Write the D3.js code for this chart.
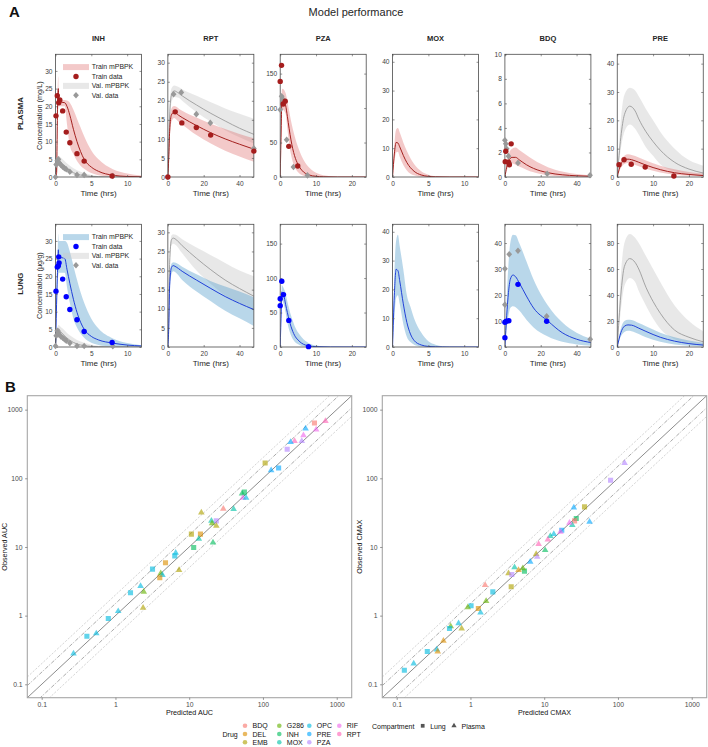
<!DOCTYPE html>
<html><head><meta charset="utf-8">
<script src="https://cdn.jsdelivr.net/npm/d3@7"></script>
<style>body{margin:0;background:#fff}svg{font-family:'Liberation Sans',Arial,Helvetica,sans-serif}</style>
</head><body><svg id="c" width="708" height="747"></svg>
<script>
// ===================== DATA =====================
const drugs = ["INH","RPT","PZA","MOX","BDQ","PRE"];
const timeMax = [12,48,24,12,48,24];
const timeTicks = [[0,5,10],[0,20,40],[0,10,20],[0,5,10],[0,20,40],[0,10,20]];
const plasmaYMax = [34.7,32.2,178,42.6,10,43.3];
const plasmaYTicks = [[0,5,10,15,20,25,30],[0,5,10,15,20,25,30],[0,50,100,150],[0,10,20,30,40],[0,2,4,6,8,10],[0,10,20,30,40]];
const lungYMax = [34.7,32.1,178,42.6,47.2,94.4];
const lungYTicks = [[0,5,10,15,20,25,30],[0,5,10,15,20,25,30],[0,50,100,150],[0,10,20,30,40],[0,10,20,30,40],[0,20,40,60,80]];

// curves: [time, lower, median, upper]
const INH_plasma_train = [[0,0,0,0],[0.15,0.5,1,1.5],[0.3,17,22,25],[0.4,19.5,25,28.5],[0.45,20,21.3,21.8],[1.3,20,21,21.8],[1.6,15,20,21.6],[2,9,17.5,21],[2.5,6.5,13.5,19],[3,4.5,10,16.5],[3.5,3.2,7.2,14],[4,2.3,5,11.5],[5,1.1,2.8,7.5],[6,0.5,1.6,5],[8,0.1,0.5,2.2],[10,0.02,0.15,1],[12,0,0.05,0.4]];
const INH_plasma_val = [[0,0,0,0],[0.15,1.5,2.5,3],[0.3,3.5,4.6,5.6],[0.45,3.8,5,6],[0.7,3.2,4.3,5.6],[1,2.5,3.6,5],[1.5,1.6,2.6,4],[2,1,1.8,3.2],[3,0.35,0.8,1.9],[4,0.12,0.4,1.1],[5,0.04,0.18,0.6],[6,0.01,0.08,0.3],[8,0,0.02,0.1],[12,0,0,0.02]];
const INH_plasma_trainObs = [[0.07,17.3],[0.25,23],[0.45,21],[0.6,21.8],[1,18.7],[1.5,12.7],[2,9.7],[3,6.6],[4,4.5],[7.9,0.3]];
const INH_plasma_valObs = [[0,0],[0.1,3.5],[0.25,4.6],[0.4,5.0],[0.5,4.0],[0.75,3.4],[1,2.9],[1.25,2.5],[1.5,2.2],[2,1.5],[3,0.6],[4,0.6],[8,0.3]];

const RPT_plasma_train = [[0,0,0,0],[0.5,3,5,7],[1,9,12,14],[2,14.5,16.3,18],[3.5,15.5,17,18.6],[6,14.5,16.2,18],[8,13.8,15.6,17.4],[16,11,13.5,15.6],[24,8.8,11.6,14],[32,6.9,10,12.6],[40,5.4,8.6,11.3],[48,4,7.3,10.2]];
const RPT_plasma_val = [[0,0,0,0],[0.5,5,7,9],[1,13,16,18],[2,19.5,21.5,23.2],[3.5,21,22.6,24],[6,20.8,22,23.6],[8,20,21.3,23],[16,17,18.9,21.3],[24,14.5,16.7,19.6],[32,12.3,14.7,18],[40,10.4,12.8,16.6],[48,8.8,11.2,15.3]];
const RPT_plasma_trainObs = [[0,0],[4.1,17.1],[7.8,14.2],[15.9,13],[23.9,11],[48,6.8]];
const RPT_plasma_valObs = [[0,0],[3.2,21.7],[7.5,22.2],[15.9,16.5],[23.7,14.2],[48,7.5]];

const PZA_plasma_train = [[0,0,0,0],[0.3,60,75,85],[0.45,95,110,125],[0.6,98,112,128],[1.5,92,104,122],[2,70,88,110],[2.5,48,70,96],[3,33,54,82],[3.5,22,41,70],[4,15,31,60],[5,7,18,43],[6,3,10,30],[8,0.6,3,14],[10,0.1,1,6],[12,0,0.3,2.5],[16,0,0,0.5],[24,0,0,0]];
const PZA_plasma_trainObs = [[0,138.7],[0.37,162],[0.84,106],[1.4,110],[2.4,44.5],[4.9,16]];
const PZA_plasma_valObs = [[0,97.6],[0.4,117],[0.7,113],[1.0,110],[1.8,54],[3.7,14.5],[7.6,2.4]];

const MOX_plasma_train = [[0,0,0,0],[0.25,5,8,11],[0.5,8.5,12,16.5],[0.75,8.8,11.8,17],[1,7,10.5,15.5],[1.5,4.2,7.5,12],[2,2.3,5,9],[3,0.6,2,4.5],[4,0.12,0.7,2],[5,0.02,0.22,0.8],[6,0,0.06,0.3],[8,0,0,0.05],[12,0,0,0]];

const BDQ_plasma_train = [[0,0,0,0],[1,0.5,0.8,1.1],[2,0.9,1.3,1.8],[4,1.1,1.6,2.3],[6,1.0,1.6,2.4],[8,0.85,1.4,2.2],[12,0.6,1.0,1.8],[16,0.38,0.7,1.4],[24,0.14,0.35,0.8],[32,0.05,0.18,0.45],[40,0.02,0.1,0.25],[48,0.01,0.06,0.15]];
const BDQ_plasma_trainObs = [[0.2,1.25],[0.5,2.1],[2,1.2],[2.5,1.0],[3.5,2.7]];
const BDQ_plasma_valObs = [[0,3.0],[0.5,2.7],[1,2.3],[2,1.7],[2.4,1.15],[7.3,1.15],[23.6,0.27],[47.5,0.14]];

const PRE_plasma_train = [[0,0,0,0],[1,3.2,4.5,5.8],[2,4.6,6,7.5],[3,4.9,6.3,8],[4,4.7,6.1,7.8],[6,3.8,5.2,6.9],[8,2.9,4.2,5.8],[12,1.6,2.6,4],[16,0.8,1.5,2.7],[20,0.4,0.9,1.8],[24,0.2,0.5,1.2]];
const PRE_plasma_val = [[0,0,0,0],[1,10,14,20],[2,16,22,29],[3.5,18.5,25,31.5],[5,17,23.3,30.5],[6,15,20.5,28.5],[8,10.5,16,24],[10,7.5,12.5,20],[12,4.5,9.5,16],[16,2,5.2,10],[20,1,2.8,6],[24,0.4,1.4,4]];
const PRE_plasma_trainObs = [[0.5,4.35],[1.9,6.1],[3.9,4.5],[7.8,3.5],[15.8,0.35]];

const INH_lung_train = [[0,0,0,0],[0.1,4,8,12],[0.2,12,16,21],[0.3,18,22.5,27],[0.4,20.5,27.5,32],[0.45,21,25.5,30],[1.3,21,25,30],[1.6,17,22,29.5],[2,12.5,18,27],[2.5,8,13.5,23],[3,5.5,9.8,19],[3.5,3.8,7,15.5],[4,2.6,5,12.5],[5,1.2,3,8],[6,0.6,2,5.2],[8,0.15,1.1,2.4],[10,0.04,0.55,1.1],[12,0.01,0.3,0.5]];
const INH_lung_val = [[0,0,0,0],[0.15,1.5,2.5,3.2],[0.3,3.5,4.8,5.8],[0.45,4,5.2,6.2],[0.7,3.3,4.4,5.7],[1,2.6,3.7,5.2],[1.5,1.7,2.7,4.2],[2,1,1.9,3.3],[3,0.35,0.85,2],[4,0.12,0.4,1.2],[5,0.04,0.18,0.65],[6,0.01,0.08,0.35],[8,0,0.02,0.1],[12,0,0,0.02]];
const INH_lung_trainObs = [[0.07,15.8],[0.25,22.6],[0.4,23],[0.45,25.5],[0.5,23.8],[1,19.2],[1.5,14.2],[2,10.6],[3,7.7],[4,4.4],[7.9,1.3]];
const INH_lung_valObs = [[0,0.3],[0.1,3.2],[0.25,4.6],[0.4,4.0],[0.5,3.5],[0.75,3.0],[1,2.6],[1.25,2.2],[1.5,1.8],[2,1.1],[3,0.3],[4,0.3],[8,0.2]];

const RPT_lung_train = [[0,0,0,0],[0.5,4,5,6],[1,14,16,17.5],[2,19,20.8,21.8],[3,19.8,21.3,22.2],[4,19.6,21.1,22.1],[8,17.5,19.8,21],[16,14.5,17.5,19],[24,12,15.3,17.2],[32,9.5,13.2,15.8],[40,7.5,11.4,14.5],[48,5.5,9.8,13]];
const RPT_lung_val = [[0,0,0,0],[0.5,6,7,8],[1,20,22,23.5],[2,26.5,28,29.2],[3,27,28.5,29.5],[4,26.8,28.3,29.4],[8,24.5,26.5,28.2],[16,20,23.2,26],[24,16.5,20.2,24],[32,13.5,17.5,22],[40,11.5,15.3,20],[48,9.5,13.3,18.5]];

const PZA_lung_train = [[0,0,0,0],[0.3,45,55,62],[0.45,68,80,90],[0.7,66,78,88],[1,62,75,85],[1.5,50,62,78],[2,35,50,66],[3,17,30,46],[4,8,17,31],[5,4,10,21],[6,1.5,5.5,14],[8,0.3,1.6,5.5],[10,0.05,0.5,2.2],[14,0,0.05,0.4],[24,0,0,0]];
const PZA_lung_trainObs = [[0,70],[0,60],[0.45,95.4],[0.92,76],[2.4,38.6],[7.9,0.5]];

const MOX_lung_train = [[0,0,0,0],[0.25,10,18,25],[0.5,17,27,37],[0.75,18,26.5,39],[1,15,23,35],[1.5,8,15,27],[2,3.5,8.5,18],[2.5,1.7,4.5,14],[3,0.8,2.3,10],[4,0.15,0.7,5],[5,0.03,0.2,2],[6,0,0.06,0.8],[7,0,0.02,0.3],[8,0,0,0.1],[12,0,0,0]];

const BDQ_lung_train = [[0,0,0,0],[1,7,12,18],[2,12,21,32],[3,15,26,40],[4.5,15.7,27.7,43.2],[6,15.3,27,43],[8,14,24.7,40],[12,10.5,19.6,33],[16,7.5,15,26],[24,4,10,16],[32,2,5.5,9.5],[40,1,3,5.5],[48,0.5,1.7,3.2]];
const BDQ_lung_trainObs = [[0,3.6],[0,9.5],[0.8,9.9],[2.2,10.1],[7.3,24.1],[23.3,9.9]];
const BDQ_lung_valObs = [[0,30.1],[0,16.3],[2.4,35.7],[7.3,37],[23.3,11.8],[47.6,3.0]];

const PRE_lung_train = [[0,0,0,0],[1,8,11,14],[2,11.5,16,20],[3,12.5,17,21],[4,12.2,16.8,20.8],[6,10,14.5,18.5],[8,7.5,12,16],[12,4,7.5,11],[16,2,4.5,7.5],[20,1,2.6,5],[24,0.5,1.5,3.3]];
const PRE_lung_val = [[0,0,0,0],[1,28,40,55],[2,47,62,80],[3.5,53,68,87],[5,50,65,84],[6,43,60,80],[8,32,46,70],[10,22,35,60],[12,14,26,50],[16,6,13,32],[20,2.5,7.5,20],[24,1,4,12]];

const legendLabels = ["Train mPBPK","Train data","Val. mPBPK","Val. data"];

// Panel B
const drugLevels = ["BDQ","DEL","EMB","G286","INH","MOX","OPC","PRE","PZA","RIF","RPT"];
const drugColors = ["#F8766D","#DB8E00","#AEA200","#64B200","#00BD5C","#00C1A7","#00BADE","#00A6FF","#B385FF","#EF67EB","#FF63B6"];
const compartments = ["Lung","Plasma"];
const logTicks = [0.1,1,10,100,1000];
const refFactors = [0.5, 1/1.5, 1, 1.5, 2];
// [drug, compartment, predicted, observed]
const aucPoints = [
 ["BDQ","Lung",499,638],["RPT","Plasma",703,682],["PRE","Plasma",378,530],["RIF","Plasma",526,512],["RIF","Plasma",354,423],
 ["RPT","Plasma",268,349],["PRE","Plasma",237,338],["PZA","Plasma",336,349],["PZA","Lung",213,265],["EMB","Lung",107,167],
 ["PRE","Lung",163,141],["PRE","Plasma",129,131],["INH","Lung",56,63],["INH","Plasma",52,60],["RIF","Plasma",53.5,52],
 ["OPC","Plasma",59,52],["MOX","Plasma",40,35.5],["BDQ","Plasma",29,36],["EMB","Plasma",14.6,31.8],["PZA","Lung",23.3,24],
 ["MOX","Plasma",20,24],["G286","Plasma",20.4,22],["EMB","Plasma",23.3,20.3],["EMB","Lung",10.7,15.4],["DEL","Lung",14.2,15.4],
 ["MOX","Plasma",13.5,13.1],["INH","Plasma",21,11.6],["INH","Lung",11.5,9.8],["OPC","Plasma",6.56,8.2],["OPC","Lung",6.37,7.42],
 ["DEL","Lung",4.77,5.88],["OPC","Lung",3.18,4.75],["G286","Plasma",4.11,4.12],["OPC","Plasma",4.34,3.89],["DEL","Lung",3.99,3.56],
 ["EMB","Plasma",7.28,4.59],["OPC","Plasma",2.19,2.69],["OPC","Lung",1.6,2.15],["G286","Plasma",2.42,2.22],["EMB","Plasma",2.37,1.30],
 ["OPC","Plasma",1.09,1.16],["OPC","Lung",0.80,0.91],["OPC","Lung",0.41,0.50],["OPC","Plasma",0.55,0.55],["OPC","Plasma",0.27,0.28]
];
const cmaxPoints = [
 ["PZA","Plasma",123,167],["PZA","Lung",79.4,93.7],["EMB","Lung",35.2,38.3],["PRE","Plasma",25.2,37.6],["PRE","Plasma",41.2,23.2],
 ["INH","Lung",27.2,26],["BDQ","Lung",25.8,24],["MOX","Plasma",24,20.8],["RIF","Plasma",22,22.4],["PRE","Lung",17.3,17.5],
 ["RIF","Plasma",16.6,16.6],["OPC","Plasma",13.5,15.4],["MOX","Plasma",12.1,14.4],["RPT","Plasma",11.2,12.8],["RPT","Plasma",8.4,11],
 ["INH","Plasma",10.3,8.97],["EMB","Plasma",7.78,7.85],["PZA","Plasma",8.03,7.18],["PRE","Plasma",6.46,6.07],["INH","Lung",5.4,4.45],
 ["MOX","Plasma",3.96,5.04],["G286","Plasma",5.13,4.87],["DEL","Plasma",4.48,4.59],["EMB","Plasma",3.28,4.12],["PZA","Lung",3.64,3.98],
 ["EMB","Lung",3.57,2.63],["BDQ","Plasma",1.58,2.78],["OPC","Lung",2.01,2.22],["G286","Plasma",1.63,1.63],["OPC","Lung",1.02,1.39],
 ["G286","Plasma",0.92,1.32],["DEL","Lung",1.28,1.27],["OPC","Plasma",1.37,1.11],["OPC","Plasma",0.69,0.77],["G286","Plasma",0.54,0.70],
 ["OPC","Lung",0.52,0.65],["EMB","Plasma",0.76,0.65],["DEL","Plasma",0.43,0.43],["OPC","Lung",0.26,0.30],["OPC","Plasma",0.35,0.32],
 ["DEL","Plasma",0.36,0.30],["OPC","Plasma",0.17,0.20],["OPC","Lung",0.127,0.16]
];

// ===================== DRAWING =====================
const svg = d3.select("#c");
const TXT = "#262626", TICK = "#404040", FRAME = "#4a4a4a";
const styleRow = {
  plasma: {band:"rgba(221,105,105,0.36)", line:"#A3201E", dot:"#A51D1D", ylabel:"Concentration (mg/L)", row:"PLASMA"},
  lung:   {band:"rgba(88,160,206,0.42)",  line:"#2140D8", dot:"#0000FF", ylabel:"Concentration (\u03bcg/g)", row:"LUNG"}
};
const VAL_BAND = "rgba(200,200,200,0.42)", VAL_LINE = "#9b9b9b", VAL_DOT = "#999999";

svg.append("text").attr("x",9).attr("y",17).attr("font-size",15).attr("font-weight","bold").attr("fill","#111").text("A");
svg.append("text").attr("x",356).attr("y",16).attr("text-anchor","middle").attr("font-size",11).attr("fill",TXT).text("Model performance");

const panels = {
  plasma: [
    {train:INH_plasma_train, val:INH_plasma_val, tObs:INH_plasma_trainObs, vObs:INH_plasma_valObs},
    {train:RPT_plasma_train, val:RPT_plasma_val, tObs:RPT_plasma_trainObs, vObs:RPT_plasma_valObs},
    {train:PZA_plasma_train, tObs:PZA_plasma_trainObs, vObs:PZA_plasma_valObs},
    {train:MOX_plasma_train},
    {train:BDQ_plasma_train, tObs:BDQ_plasma_trainObs, vObs:BDQ_plasma_valObs},
    {train:PRE_plasma_train, val:PRE_plasma_val, tObs:PRE_plasma_trainObs}
  ],
  lung: [
    {train:INH_lung_train, val:INH_lung_val, tObs:INH_lung_trainObs, vObs:INH_lung_valObs},
    {train:RPT_lung_train, val:RPT_lung_val},
    {train:PZA_lung_train, tObs:PZA_lung_trainObs},
    {train:MOX_lung_train},
    {train:BDQ_lung_train, tObs:BDQ_lung_trainObs, vObs:BDQ_lung_valObs},
    {train:PRE_lung_train, val:PRE_lung_val}
  ]
};

const diamond = "M0,-3.3L2.9,0L0,3.3L-2.9,0Z";
let clipN = 0;
function drawPanel(i, rowKey, top, yMax, yTicks) {
  const st = styleRow[rowKey], cfg = panels[rowKey][i];
  const left = 55.5 + i*112.35, w = 86, h = 122.7;
  const g = svg.append("g").attr("transform",`translate(${left},${top})`);
  const x = d3.scaleLinear().domain([0,timeMax[i]]).range([0,w]);
  const y = d3.scaleLinear().domain([0,yMax]).range([h,0]);
  const id = "clip"+(clipN++);
  g.append("clipPath").attr("id",id).append("rect").attr("width",w).attr("height",h);
  const plot = g.append("g").attr("clip-path",`url(#${id})`);
  const area = d3.area().x(d=>x(d[0])).y0(d=>y(d[1])).y1(d=>y(d[3])).curve(d3.curveMonotoneX);
  const line = d3.line().x(d=>x(d[0])).y(d=>y(d[2])).curve(d3.curveMonotoneX);
  if (cfg.val) plot.append("path").attr("d",area(cfg.val)).attr("fill",VAL_BAND);
  plot.append("path").attr("d",area(cfg.train)).attr("fill",st.band);
  if (cfg.val) plot.append("path").attr("d",line(cfg.val)).attr("fill","none").attr("stroke",VAL_LINE).attr("stroke-width",0.9);
  plot.append("path").attr("d",line(cfg.train)).attr("fill","none").attr("stroke",st.line).attr("stroke-width",1);
  // frame
  g.append("rect").attr("width",w).attr("height",h).attr("fill","none").attr("stroke",FRAME).attr("stroke-width",0.8);
  // axes
  const ax = g.append("g").attr("transform",`translate(0,${h})`)
    .call(d3.axisBottom(x).tickValues(timeTicks[i]).tickSizeInner(-2).tickSizeOuter(0).tickPadding(4).tickFormat(d3.format("d")));
  const ay = g.append("g").call(d3.axisLeft(y).tickValues(yTicks).tickSizeInner(-2).tickSizeOuter(0).tickPadding(3).tickFormat(d3.format("d")));
  g.append("g").attr("transform",`translate(${w},0)`).call(d3.axisRight(y).tickValues(yTicks).tickSizeInner(-2).tickSizeOuter(0).tickFormat(""));
  g.append("g").call(d3.axisTop(x).tickValues(timeTicks[i]).tickSizeInner(-2).tickSizeOuter(0).tickFormat(""));
  g.selectAll(".domain").remove();
  g.selectAll(".tick line").attr("stroke",FRAME).attr("stroke-width",0.6);
  g.selectAll(".tick text").attr("font-size",6.6).attr("fill",TICK).attr("font-family","'Liberation Sans',Arial,sans-serif");
  // data markers
  if (cfg.vObs) g.selectAll(".vo").data(cfg.vObs).join("path").attr("d",diamond)
     .attr("transform",d=>`translate(${x(d[0])},${y(d[1])})`).attr("fill",VAL_DOT);
  if (cfg.tObs) g.selectAll(".to").data(cfg.tObs).join("circle")
     .attr("cx",d=>x(d[0])).attr("cy",d=>y(d[1])).attr("r",2.7).attr("fill",st.dot);
  // x label
  g.append("text").attr("x",w/2).attr("y",h+19.5).attr("text-anchor","middle").attr("font-size",8).attr("fill",TXT).text("Time (hrs)");
  if (i===0) {
    g.append("text").attr("transform",`translate(-13.5,${h/2}) rotate(-90)`).attr("text-anchor","middle")
      .attr("font-size",7.3).attr("fill",TXT).text(st.ylabel);
    g.append("text").attr("transform",`translate(-33,${h/2-2}) rotate(-90)`).attr("text-anchor","middle")
      .attr("font-size",7.8).attr("font-weight","bold").attr("fill",TXT).text(st.row);
    // legend
    const lg = g.append("g");
    const rows = [12.8,22.2,31.6,41];
    lg.append("rect").attr("x",7.5).attr("y",rows[0]-3).attr("width",26).attr("height",6).attr("fill",st.band);
    lg.append("circle").attr("cx",20.5).attr("cy",rows[1]).attr("r",2.7).attr("fill",st.dot);
    lg.append("rect").attr("x",7.5).attr("y",rows[2]-3).attr("width",26).attr("height",6).attr("fill",VAL_BAND);
    lg.append("path").attr("d",diamond).attr("transform",`translate(20.5,${rows[3]})`).attr("fill",VAL_DOT);
    legendLabels.forEach((t,k)=>lg.append("text").attr("x",36.2).attr("y",rows[k]+2.4).attr("font-size",6.9).attr("fill",TXT).text(t));
  }
  if (rowKey==="plasma") {
    g.append("text").attr("x",w/2).attr("y",-13.5).attr("text-anchor","middle").attr("font-size",7.5)
      .attr("font-weight","bold").attr("fill",TXT).text(drugs[i]);
  }
}
drugs.forEach((d,i)=>{
  drawPanel(i,"plasma",54.3,plasmaYMax[i],plasmaYTicks[i]);
  drawPanel(i,"lung",224.3,lungYMax[i],lungYTicks[i]);
});

// ---------- Panel B ----------
svg.append("text").attr("x",5).attr("y",392).attr("font-size",15).attr("font-weight","bold").attr("fill","#111").text("B");
const color = d3.scaleOrdinal().domain(drugLevels).range(drugColors);
const shape = d3.scaleOrdinal().domain(compartments).range([d3.symbolSquare,d3.symbolTriangle]);
const shapeSize = {Lung:26, Plasma:19};
const dom = [0.0638,1596];
function drawScatter(left, right, pts, name) {
  const top = 395.7, bottom = 697.7;
  const x = d3.scaleLog().domain(dom).range([left,right]);
  const y = d3.scaleLog().domain(dom).range([bottom,top]);
  const g = svg.append("g");
  const id = "sclip"+(clipN++);
  g.append("clipPath").attr("id",id).append("rect").attr("x",left).attr("y",top).attr("width",right-left).attr("height",bottom-top);
  const pl = g.append("g").attr("clip-path",`url(#${id})`);
  refFactors.forEach(f=>{
    const ln = pl.append("line").attr("x1",x(dom[0])).attr("y1",y(dom[0]*f)).attr("x2",x(dom[1])).attr("y2",y(dom[1]*f)).attr("fill","none");
    if (f===1) ln.attr("stroke","#5a5a5a").attr("stroke-width",0.7);
    else if (Math.abs(Math.log(f))<0.5) ln.attr("stroke","#707070").attr("stroke-width",0.6).attr("stroke-dasharray","4,1.6,1,1.6");
    else ln.attr("stroke","#b8b8b8").attr("stroke-width",0.6).attr("stroke-dasharray","2.2,1.5");
  });
  pl.selectAll(".pt").data(pts).join("path")
    .attr("d",d=>d3.symbol().type(shape(d[1])).size(shapeSize[d[1]])())
    .attr("transform",d=>`translate(${x(d[2])},${y(d[3])})`)
    .attr("fill",d=>color(d[0])).attr("fill-opacity",0.62);
  g.append("rect").attr("x",left).attr("y",top).attr("width",right-left).attr("height",bottom-top)
    .attr("fill","none").attr("stroke","#a6a6a6").attr("stroke-width",1.1);
  const ax = g.append("g").attr("transform",`translate(0,${bottom})`)
    .call(d3.axisBottom(x).tickValues(logTicks).tickSize(2.2).tickPadding(2.5).tickFormat(d=>String(d)));
  const ay = g.append("g").attr("transform",`translate(${left},0)`)
    .call(d3.axisLeft(y).tickValues(logTicks).tickSize(2.2).tickPadding(2.5).tickFormat(d=>String(d)));
  g.selectAll(".domain").remove();
  g.selectAll(".tick line").attr("stroke","#555").attr("stroke-width",0.6);
  g.selectAll(".tick text").attr("font-size",6.8).attr("fill","#4d4d4d").attr("font-family","'Liberation Sans',Arial,sans-serif");
  g.append("text").attr("x",(left+right)/2).attr("y",715).attr("text-anchor","middle").attr("font-size",7.2).attr("fill","#111").text("Predicted "+name);
  g.append("text").attr("transform",`translate(${left-20},${(top+bottom)/2}) rotate(-90)`).attr("text-anchor","middle")
    .attr("font-size",7.2).attr("fill","#111").text("Observed "+name);
}
drawScatter(27.3,351.7,aucPoints,"AUC");
drawScatter(382.3,706.7,cmaxPoints,"CMAX");

// legend
const lgB = svg.append("g").attr("font-size",7).attr("fill","#111");
lgB.append("text").attr("x",222.5).attr("y",736.5).text("Drug");
const colX = [245,279.3,309.3,339.3], rowY = [725.7,734,742.3];
drugLevels.forEach((d,k)=>{
  const c = Math.floor(k/3), r = k%3;
  lgB.append("circle").attr("cx",colX[c]).attr("cy",rowY[r]).attr("r",2.3).attr("fill",color(d)).attr("fill-opacity",0.62);
  lgB.append("text").attr("x",colX[c]+7.5).attr("y",rowY[r]+2.5).text(d);
});
lgB.append("text").attr("x",372).attr("y",728.5).text("Compartment");
compartments.forEach((cmp,k)=>{
  const cx = k===0 ? 422.7 : 454;
  lgB.append("path").attr("d",d3.symbol().type(shape(cmp)).size(k===0?14:12)()).attr("transform",`translate(${cx},725.8)`).attr("fill","#555");
  lgB.append("text").attr("x",cx+7.5).attr("y",728.5).text(cmp);
});
</script></body></html>
